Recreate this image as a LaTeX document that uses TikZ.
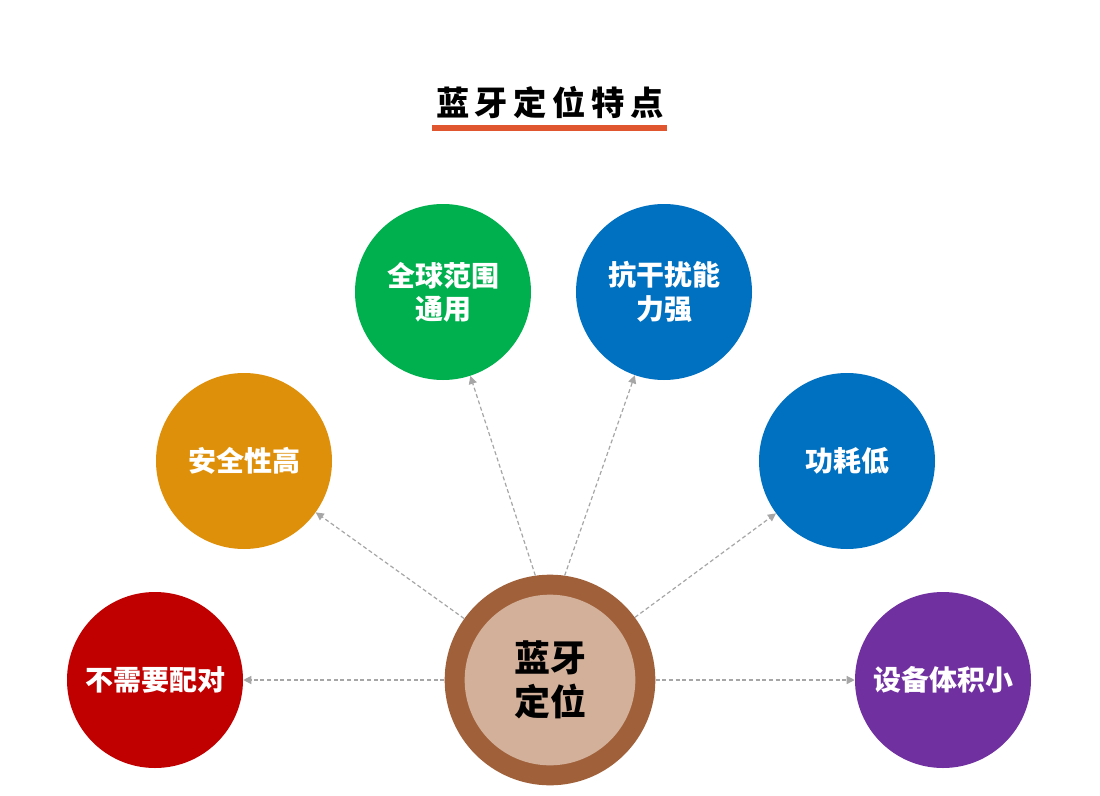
\documentclass[tikz,border=0pt]{standalone}
\usepackage{fontspec}
\newfontfamily\cjk{Noto Sans CJK SC}
\usetikzlibrary{arrows.meta}
\definecolor{cred}{HTML}{C00000}
\definecolor{corange}{HTML}{DF900A}
\definecolor{cgreen}{HTML}{00B04F}
\definecolor{cblue}{HTML}{0070C0}
\definecolor{cpurple}{HTML}{7030A0}
\definecolor{cbrown}{HTML}{A0603A}
\definecolor{cbeige}{HTML}{D2B09A}
\definecolor{cline}{HTML}{E0572F}
\begin{document}
\begin{tikzpicture}[x=0.75pt,y=-0.75pt,
  feat/.style={circle,minimum size=132pt,inner sep=0pt,align=center,text=white,font=\cjk\bfseries\fontsize{21}{25}\selectfont},
  conn/.style={densely dashed,draw=gray!70,line width=0.9pt,-{Triangle[length=6pt,width=6pt]}}]
\useasboundingbox (0,0) rectangle (1100,796);
\fill[white] (0,0) rectangle (1100,796);
\node[font=\cjk\bfseries\fontsize{25}{30}\selectfont] (title) at (550,103) {蓝\,牙\,定\,位\,特\,点};
\draw[cline,line width=3.8pt] (432,128) -- (667,128);
\node[circle,fill=cbrown,minimum size=158pt,inner sep=0pt] (c) at (550,680) {};
\node[circle,fill=cbeige,minimum size=128pt,inner sep=0pt,align=center,font=\cjk\bfseries\fontsize{27}{33}\selectfont] (ci) at (550,680) {蓝牙\\定位};
\node[feat,fill=cred] (a) at (155,680) {不需要配对};
\node[feat,fill=corange] (b) at (244,461) {安全性高};
\node[feat,fill=cgreen] (g) at (443,292) {全球范围\\通用};
\node[feat,fill=cblue] (d) at (664,292) {抗干扰能\\力强};
\node[feat,fill=cblue] (e) at (847,461) {功耗低};
\node[feat,fill=cpurple] (f) at (943,680) {设备体积小};
\draw[conn] (c.180) -- (a);
\draw[conn] (c) -- (b);
\draw[conn] (c.98) -- (g);
\draw[conn] (c.82) -- (d);
\draw[conn] (c) -- (e);
\draw[conn] (c.0) -- (f);
\end{tikzpicture}
\end{document}
